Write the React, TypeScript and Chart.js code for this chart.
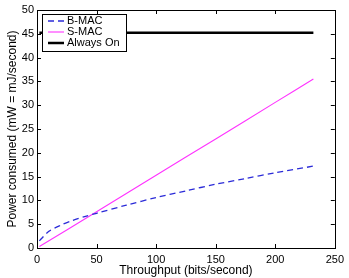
import React, { useEffect, useRef } from 'react';
import { Chart, registerables } from 'chart.js';
Chart.register(...registerables);

const bmacX = [2, 10, 20, 30, 40, 50, 75, 100, 125, 150, 175, 200, 232];
const bmacY = [1.5, 3.5, 4.8, 5.8, 6.6, 7.3, 9.0, 10.6, 12.0, 13.4, 14.6, 15.8, 17.2];
const smacX = [2, 50, 100, 150, 200, 232];
const smacY = [0.3, 7.6, 15.3, 22.9, 30.6, 35.5];
const alwaysX = [2, 232];
const alwaysY = [45.2, 45.2];
const seriesNames = ['B-MAC', 'S-MAC', 'Always On'];
const xTicks = [0, 50, 100, 150, 200, 250];
const yTicks = [0, 5, 10, 15, 20, 25, 30, 35, 40, 45, 50];
const xTitle = 'Throughput (bits/second)';
const yTitle = 'Power consumed (mW = mJ/second)';

const FONT = '"Liberation Sans", Arial, Helvetica, sans-serif';
const colors = ['#2b2bd8', '#ff33ff', '#000000'];
const widths = [1.3, 1.1, 2.5];
const dashes: number[][] = [[6, 4], [], []];

const pts = (xs: number[], ys: number[]) => xs.map((x, i) => ({ x, y: ys[i] }));

const framePlugin = {
  id: 'frame',
  afterDatasetsDraw(chart: any) {
    const { ctx, chartArea: a, scales } = chart;
    ctx.save();
    ctx.strokeStyle = '#000';
    ctx.lineWidth = 1;
    ctx.setLineDash([]);
    ctx.strokeRect(Math.round(a.left) + 0.5, Math.round(a.top) + 0.5, Math.round(a.right - a.left), Math.round(a.bottom - a.top));
    const tl = 4;
    ctx.beginPath();
    xTicks.forEach((v) => {
      const px = Math.round(scales.x.getPixelForValue(v)) + 0.5;
      ctx.moveTo(px, a.bottom);
      ctx.lineTo(px, a.bottom - tl);
      ctx.moveTo(px, a.top);
      ctx.lineTo(px, a.top + tl);
    });
    yTicks.forEach((v) => {
      const py = Math.round(scales.y.getPixelForValue(v)) + 0.5;
      ctx.moveTo(a.left, py);
      ctx.lineTo(a.left + tl, py);
      ctx.moveTo(a.right, py);
      ctx.lineTo(a.right - tl, py);
    });
    ctx.stroke();

    // legend box
    const bx = 42.5, by = 14.5, bw = 84, bh = 37;
    ctx.fillStyle = '#fff';
    ctx.fillRect(bx, by, bw, bh);
    ctx.strokeRect(bx, by, bw, bh);
    const rows = [21, 32, 43];
    ctx.font = '11px ' + FONT;
    ctx.textBaseline = 'middle';
    seriesNames.forEach((name, i) => {
      ctx.beginPath();
      ctx.strokeStyle = colors[i];
      ctx.lineWidth = widths[i];
      ctx.setLineDash(dashes[i]);
      ctx.moveTo(48, rows[i]);
      ctx.lineTo(64, rows[i]);
      ctx.stroke();
      ctx.setLineDash([]);
      ctx.fillStyle = '#000';
      ctx.fillText(name, 67, rows[i]);
    });
    ctx.restore();
  },
};

export default function App() {
  const ref = useRef<HTMLCanvasElement>(null);
  useEffect(() => {
    document.body.style.margin = '0';
    const ds = [pts(bmacX, bmacY), pts(smacX, smacY), pts(alwaysX, alwaysY)].map((d, i) => ({
      label: seriesNames[i],
      data: d,
      borderColor: colors[i],
      backgroundColor: colors[i],
      borderWidth: widths[i],
      borderDash: dashes[i],
      showLine: true,
      pointRadius: 0,
      tension: 0.3,
      fill: false,
    }));
    const chart = new Chart(ref.current!, {
      type: 'scatter',
      data: { datasets: ds as any },
      options: {
        animation: false,
        responsive: false,
        maintainAspectRatio: false,
        layout: { padding: { top: 10, right: 10, left: 0, bottom: 0 } },
        plugins: { legend: { display: false }, tooltip: { enabled: false } },
        scales: {
          x: {
            type: 'linear',
            min: 0,
            max: 250,
            afterFit: (s: any) => { s.height = 30; },
            afterBuildTicks: (s: any) => { s.ticks = xTicks.map((v) => ({ value: v })); },
            grid: { display: false, drawTicks: false },
            border: { display: false },
            ticks: { color: '#000', font: { family: FONT, size: 11 }, padding: 5, maxRotation: 0 },
            title: { display: true, text: xTitle, color: '#000', font: { family: FONT, size: 12 }, padding: { top: -2, bottom: 0 } },
          },
          y: {
            type: 'linear',
            min: 0,
            max: 50,
            afterFit: (s: any) => { s.width = 37; },
            afterBuildTicks: (s: any) => { s.ticks = yTicks.map((v) => ({ value: v })); },
            grid: { display: false, drawTicks: false },
            border: { display: false },
            ticks: { color: '#000', font: { family: FONT, size: 11 }, padding: 3 },
            title: { display: true, text: yTitle, color: '#000', font: { family: FONT, size: 12 }, padding: { top: 5, bottom: 0 } },
          },
        },
      },
      plugins: [framePlugin],
    });
    return () => chart.destroy();
  }, []);
  return (
    <div style={{ position: 'absolute', left: 0, top: 0, width: 349, height: 278 }}>
      <canvas ref={ref} width={349} height={278} style={{ width: 349, height: 278, display: 'block' }} />
    </div>
  );
}
